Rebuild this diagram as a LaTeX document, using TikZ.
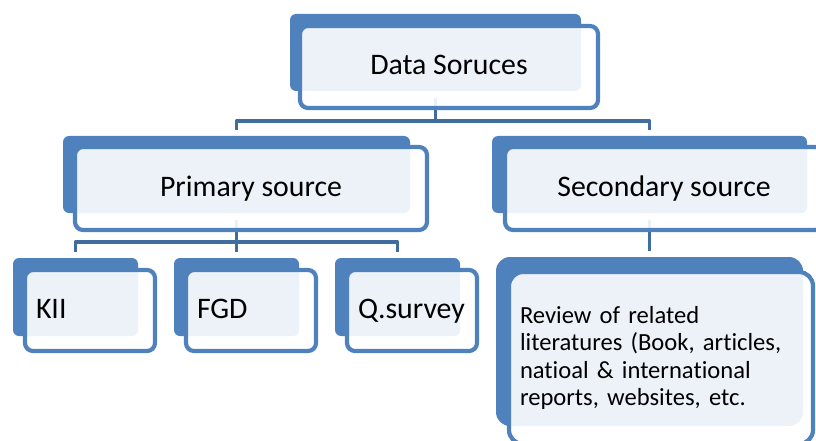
\documentclass[tikz,border=0pt]{standalone}
\usepackage{fontspec}
\setmainfont{Carlito}[Ligatures={CommonOff}]
\definecolor{accent}{HTML}{4F81BD}
\definecolor{linkblue}{HTML}{406C9E}
\tikzset{
  backbox/.style={fill=accent, draw=none, rounded corners=6pt, inner sep=0pt, outer sep=0pt},
  basebox/.style={draw=accent, line width=4.2pt, fill=white, fill opacity=0.9, text opacity=1,
    rounded corners=8pt, inner sep=0pt, outer sep=0pt},
  labelbox/.style={basebox, font=\fontsize{29.8}{36}\selectfont, text height=19pt, text depth=3pt},
  leftlabel/.style={align=left, inner xsep=11pt},
  conn/.style={draw=linkblue, line width=3.2pt, line join=round},
}
\begin{document}
\begin{tikzpicture}[x=1pt, y=-1pt]
\useasboundingbox (0,0) rectangle (816,441);
\clip (0,0) rectangle (816,441);
\fill[white] (0,0) rectangle (816,441);

% bus levels of the hierarchy
\coordinate (bus1) at (0,121);
\coordinate (bus2) at (0,242);

% back plates
\node[backbox, minimum width=291pt, minimum height=77pt] (ds-back) at (435.5,52.5) {};
\node[backbox, minimum width=347pt, minimum height=77pt] (ps-back) at (236.5,174.5) {};
\node[backbox, minimum width=315pt, minimum height=77pt] (ss-back) at (649.5,174.5) {};
\node[backbox, minimum width=125pt, minimum height=78pt] (kii-back) at (75.5,297) {};
\node[backbox, minimum width=125pt, minimum height=78pt] (fgd-back) at (236.5,297) {};
\node[backbox, minimum width=125pt, minimum height=78pt] (q-back) at (397.5,297) {};
\node[backbox, rounded corners=14pt, minimum width=307pt, minimum height=169pt] (rv-back) at (649.5,341.5) {};

% connectors
\draw[conn] ([yshift=-7pt]ds-back.south) -- (ds-back.south |- bus1);
\draw[conn] ([yshift=6pt]ps-back.north) |- (bus1 -| ss-back.north) -- ([yshift=6pt]ss-back.north);
\draw[conn] ([yshift=-7pt]ps-back.south) -- (ps-back.south |- bus2);
\draw[conn] ([yshift=6pt]kii-back.north) |- (bus2 -| q-back.north) -- ([yshift=6pt]q-back.north);
\draw[conn] (fgd-back.north |- bus2) -- ([yshift=6pt]fgd-back.north);
\draw[conn] ([yshift=-7pt]ss-back.south) -- ([yshift=6pt]rv-back.north);

% front cards
\node[labelbox, minimum width=298pt, minimum height=82pt] (ds) at (449,67) {Data Soruces};
\node[labelbox, minimum width=352pt, minimum height=83pt] (ps) at (251,188.5) {Primary source};
\node[labelbox, minimum width=318pt, minimum height=83pt] (ss) at (664,188.5) {Secondary source};
\node[labelbox, leftlabel, text width=108pt, minimum width=130pt, minimum height=81pt] (kii) at (90,310.5) {KII};
\node[labelbox, leftlabel, text width=108pt, minimum width=130pt, minimum height=81pt] (fgd) at (251,310.5) {FGD};
\node[labelbox, leftlabel, text width=108pt, minimum width=130pt, minimum height=81pt] (q) at (412,310.5) {Q.survey};
\node[basebox, leftlabel, rounded corners=14pt, font=\fontsize{24.6}{27.5}\selectfont,
  text width=282pt, minimum width=304pt, minimum height=172pt] (rv) at (661,358)
  {Review of related\\literatures (Book, articles,\\natioal \& international\\reports, websites, etc.};
\end{tikzpicture}
\end{document}
